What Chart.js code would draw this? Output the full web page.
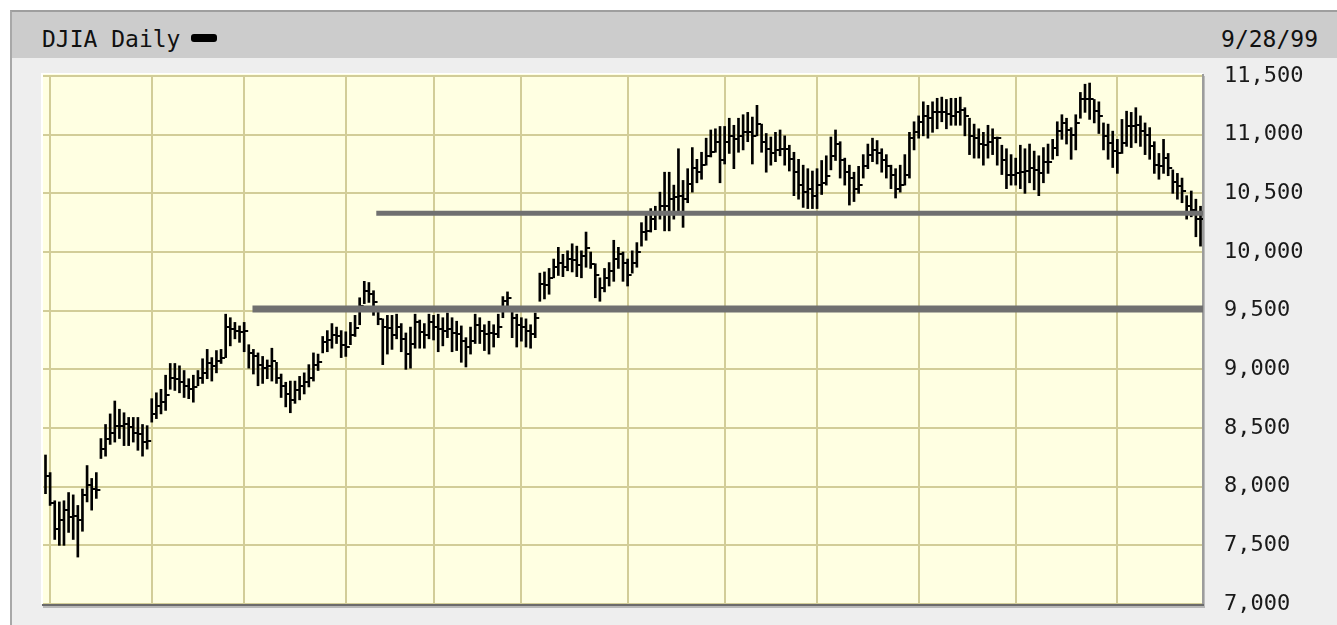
<!DOCTYPE html>
<html>
<head>
<meta charset="utf-8">
<script src="https://cdn.jsdelivr.net/npm/chart.js@4/dist/chart.umd.min.js"></script>
<style>
  body { margin: 0; background: #fff; width: 1337px; height: 625px; overflow: hidden; position: relative; }
  #panel { position: absolute; left: 10px; top: 10px; width: 1327px; height: 615px; box-sizing: border-box;
           border-top: 2px solid #9e9e9e; border-left: 2px solid #a8a8a8; background: #eeeeee; }
  #header { position: absolute; left: 12px; top: 12px; width: 1325px; height: 46px; background: #cccccc; }
  .txt { position: absolute; font-family: "DejaVu Sans Mono", monospace; font-size: 23px; line-height: 23px; color: #111; white-space: pre; }
  #title { left: 42px; top: 28px; }
  #mark { position: absolute; left: 191px; top: 34px; width: 26px; height: 8px; background: #000; border-radius: 3px; }
  #date { right: 19px; top: 28px; text-align: right; }
  #c { position: absolute; left: 0; top: 0; }
</style>
</head>
<body>
<div id="panel"></div>
<div id="header"></div>
<div class="txt" id="title">DJIA Daily</div>
<div id="mark"></div>
<div class="txt" id="date">9/28/99</div>
<canvas id="c" width="1337" height="625"></canvas>
<script>
// daily bars, 9/30/98 .. 9/28/99 (index = trading day)
var high = [
  8270, 8120, 7880, 7870, 7880, 7950, 7930, 7840, 7980, 8180,
  8070, 8120, 8410, 8530, 8620, 8730, 8660, 8630, 8590, 8590,
  8590, 8530, 8520, 8750, 8800, 8830, 8950, 9050, 9050, 9030,
  8990, 8920, 8950, 8990, 9090, 9170, 9100, 9160, 9170, 9470,
  9440, 9400, 9370, 9400, 9210, 9170, 9140, 9110, 9080, 9180,
  9060, 8960, 8890, 8900, 8900, 8940, 8970, 9040, 9140, 9130,
  9280, 9330, 9390, 9360, 9330, 9320, 9400, 9460, 9610, 9750,
  9740, 9670, 9510, 9430, 9460, 9460, 9470, 9390, 9310, 9360,
  9470, 9420, 9390, 9470, 9460, 9470, 9440, 9480, 9440, 9410,
  9370, 9270, 9360, 9470, 9440, 9380, 9410, 9380, 9470, 9620,
  9660, 9500, 9470, 9440, 9430, 9380, 9480, 9820, 9830, 9860,
  9940, 10040, 9980, 10010, 10070, 10050, 10010, 10170, 10000, 9900,
  9780, 9860, 9910, 10100, 10040, 10000, 9940, 10010, 10080, 10250,
  10310, 10370, 10390, 10510, 10680, 10680, 10570, 10880, 10610, 10710,
  10890, 10790, 10850, 10970, 11040, 11050, 11070, 11070, 11140, 11080,
  11140, 11170, 11190, 11150, 11250, 11090, 11010, 10980, 11020, 11040,
  10990, 10910, 10850, 10790, 10740, 10710, 10690, 10710, 10780, 10820,
  10980, 11040, 10940, 10800, 10740, 10680, 10730, 10830, 10920, 10970,
  10950, 10880, 10830, 10740, 10710, 10740, 10830, 11020, 11110, 11160,
  11280, 11250, 11280, 11310, 11320, 11300, 11310, 11310, 11320, 11230,
  11140, 11090, 11050, 11020, 11080, 11050, 10980, 10910, 10880, 10830,
  10800, 10910, 10880, 10920, 10860, 10820, 10890, 10920, 10960, 11110,
  11170, 11140, 11060, 11170, 11360, 11430, 11440, 11300, 11280, 11100,
  11090, 11030, 10960, 11130, 11200, 11190, 11230, 11160, 11100, 11060,
  10940, 10840, 10960, 10840, 10700, 10670, 10630, 10480, 10520, 10450,
  10390
];
var low = [
  7940, 7840, 7550, 7500, 7500, 7610, 7550, 7400, 7620, 7870,
  7800, 7900, 8240, 8260, 8360, 8380, 8410, 8350, 8350, 8380,
  8310, 8260, 8320, 8550, 8580, 8620, 8650, 8830, 8820, 8800,
  8760, 8750, 8720, 8860, 8880, 8920, 8900, 8970, 9050, 9100,
  9200, 9260, 9230, 9150, 9010, 8960, 8860, 8880, 8920, 8900,
  8880, 8760, 8680, 8630, 8710, 8740, 8790, 8850, 8900, 8990,
  9140, 9150, 9180, 9220, 9100, 9110, 9210, 9280, 9380, 9560,
  9570, 9460, 9380, 9040, 9130, 9170, 9260, 9150, 9000, 9010,
  9180, 9180, 9180, 9260, 9250, 9150, 9200, 9270, 9150, 9160,
  9060, 9020, 9130, 9220, 9220, 9160, 9130, 9190, 9270, 9440,
  9500, 9270, 9190, 9240, 9190, 9180, 9270, 9580, 9600, 9640,
  9780, 9800, 9790, 9840, 9830, 9790, 9780, 9870, 9860, 9610,
  9580, 9660, 9710, 9750, 9860, 9750, 9710, 9820, 9870, 10050,
  10100, 10170, 10190, 10280, 10180, 10180, 10280, 10340, 10210, 10420,
  10510, 10590, 10620, 10740, 10810, 10850, 10590, 10750, 10840, 10710,
  10850, 10870, 10940, 10750, 10990, 10850, 10680, 10740, 10770, 10820,
  10740, 10690, 10480, 10450, 10380, 10370, 10370, 10370, 10490, 10570,
  10700, 10780, 10630, 10570, 10400, 10430, 10500, 10630, 10710, 10770,
  10750, 10680, 10630, 10540, 10460, 10510, 10570, 10630, 10870, 10970,
  10990, 10970, 11020, 11050, 11110, 11050, 11080, 11080, 11080, 10990,
  10830, 10800, 10800, 10740, 10800, 10830, 10740, 10660, 10540, 10570,
  10570, 10540, 10500, 10590, 10530, 10480, 10590, 10670, 10790, 10820,
  10960, 10920, 10790, 10870, 11140, 11190, 11130, 11100, 11010, 10870,
  10790, 10720, 10670, 10840, 10900, 10890, 10930, 10900, 10830, 10790,
  10670, 10620, 10670, 10650, 10500, 10450, 10420, 10280, 10300, 10130,
  10050
];
var close = [
  8090, 7860, 7640, 7720, 7800, 7740, 7750, 7720, 7930, 8010,
  7980, 7970, 8320, 8410, 8460, 8520, 8520, 8530, 8510, 8460,
  8450, 8380, 8390, 8620, 8690, 8720, 8780, 8930, 8920, 8890,
  8860, 8830, 8850, 8930, 8970, 9050, 9030, 9070, 9100, 9360,
  9340, 9330, 9320, 9330, 9140, 9110, 9040, 9010, 9030, 9070,
  8930, 8860, 8790, 8740, 8820, 8860, 8890, 8930, 9040, 9060,
  9230, 9250, 9290, 9280, 9210, 9190, 9290, 9350, 9540, 9670,
  9640, 9570, 9430, 9360, 9350, 9290, 9360, 9260, 9130, 9220,
  9400, 9320, 9290, 9400, 9360, 9340, 9330, 9340, 9310, 9300,
  9240, 9190, 9240, 9380, 9330, 9300, 9310, 9300, 9360, 9580,
  9610, 9440, 9380, 9360, 9330, 9300, 9440, 9730, 9720, 9780,
  9870, 9910, 9870, 9940, 9930, 9890, 9970, 10030, 9900, 9800,
  9690, 9780, 9840, 9940, 9980, 9910, 9800, 9910, 10000, 10170,
  10180, 10280, 10320, 10390, 10390, 10450, 10470, 10480, 10450, 10580,
  10720, 10680, 10740, 10820, 10850, 10940, 10780, 10940, 10990, 10960,
  10990, 11020, 11020, 10990, 11090, 10940, 10880, 10840, 10870, 10880,
  10880, 10790, 10680, 10570, 10510, 10540, 10480, 10570, 10590, 10650,
  10820, 10920, 10780, 10680, 10630, 10540, 10570, 10730, 10830, 10870,
  10840, 10780, 10730, 10660, 10540, 10570, 10660, 10970, 11020, 11110,
  11160, 11140, 11190, 11190, 11190, 11180, 11160, 11190, 11210, 11160,
  10990, 10970, 10920, 10910, 10940, 10970, 10970, 10780, 10660, 10660,
  10670, 10680, 10690, 10720, 10700, 10670, 10770, 10770, 10890, 11030,
  11100, 11040, 11000, 11100, 11300, 11300, 11300, 11200, 11160, 10990,
  10930, 10860, 10840, 10930, 11070, 11070, 11080, 11030, 11000, 10900,
  10740, 10730, 10800, 10720, 10600, 10560, 10520, 10390, 10360, 10280,
  10280
];
// first trading day of each month, Oct 98 .. Sep 99
var monthStarts = [1, 23, 43, 65, 84, 103, 126, 147, 167, 189, 210, 232];
var yTicks = [7000, 7500, 8000, 8500, 9000, 9500, 10000, 10500, 11000, 11500];
// support lines: level and first day
var trendLevels = [9515, 10330];
var trendStarts = [44.8, 71.6];
var trendWidths = [7, 5];

var lastDay = high.length - 1;

// close tick: small mark to the right of the bar
var tickImg = document.createElement('canvas');
tickImg.width = 10;
tickImg.height = 2;
var tctx = tickImg.getContext('2d');
tctx.fillStyle = '#000';
tctx.fillRect(5, 0, 4, 2);

var bars = [], closes = [];
for (var i = 0; i < high.length; i++) {
    bars.push({ x: i, y: [low[i], high[i]] });
    closes.push({ x: i, y: close[i] });
}

var datasets = [];
for (var k = 0; k < trendLevels.length; k++) {
    datasets.push({
        type: 'line',
        data: [{ x: trendStarts[k], y: trendLevels[k] }, { x: lastDay + 0.54, y: trendLevels[k] }],
        borderColor: '#707070',
        borderWidth: trendWidths[k],
        borderCapStyle: 'butt',
        pointRadius: 0,
        order: 0
    });
}
datasets.push({
    type: 'line',
    data: closes,
    showLine: false,
    pointStyle: tickImg,
    pointRadius: 3,
    order: 1
});
datasets.push({
    type: 'bar',
    data: bars,
    backgroundColor: '#000',
    borderWidth: 0,
    barThickness: 2,
    order: 2
});

var plotFrame = {
    id: 'plotFrame',
    beforeDraw: function (chart) {
        var a = chart.chartArea, c = chart.ctx;
        c.save();
        c.fillStyle = '#ffffff';
        c.fillRect(a.left - 2, a.top - 3, a.right - a.left + 2, a.bottom - a.top + 3);
        c.fillStyle = '#ffffe2';
        c.fillRect(a.left, a.top - 2, a.right - a.left, a.bottom - a.top + 2);
        c.restore();
    },
    beforeDatasetsDraw: function (chart) {
        var a = chart.chartArea, c = chart.ctx;
        c.save();
        c.fillStyle = '#9c9c9c';
        c.fillRect(a.right - 1, a.top - 2, 2, a.bottom - a.top + 4);
        c.fillStyle = '#bcbcbc';
        c.fillRect(a.right + 1, a.top, 1, a.bottom - a.top + 4);
        c.fillStyle = '#6b6b6b';
        c.fillRect(a.left - 1, a.bottom, a.right - a.left + 2, 2);
        c.fillStyle = '#b8b8b8';
        c.fillRect(a.left, a.bottom + 2, a.right - a.left + 2, 2);
        c.restore();
    }
};

var gridColor = '#d2cd98';

new Chart(document.getElementById('c').getContext('2d'), {
    data: { datasets: datasets },
    options: {
        responsive: false,
        animation: false,
        devicePixelRatio: 1,
        layout: { padding: { left: 43, top: 76, right: 0, bottom: 21 } },
        plugins: { legend: { display: false }, tooltip: { enabled: false } },
        events: [],
        scales: {
            x: {
                type: 'linear',
                offset: false,
                min: -0.54,
                max: lastDay + 0.54,
                afterBuildTicks: function (scale) {
                    scale.ticks = monthStarts.map(function (v) { return { value: v }; });
                },
                afterFit: function (scale) { scale.height = 0; },
                ticks: { display: false },
                grid: { color: gridColor, lineWidth: 2, drawTicks: false, offset: false },
                border: { display: false }
            },
            y: {
                position: 'right',
                min: yTicks[0],
                max: yTicks[yTicks.length - 1],
                afterBuildTicks: function (scale) {
                    scale.ticks = yTicks.map(function (v) { return { value: v }; });
                },
                afterFit: function (scale) {
                    scale.width = 134;
                    scale.paddingTop = 0;
                    scale.paddingBottom = 0;
                },
                ticks: {
                    padding: 21,
                    color: '#1a1a1a',
                    font: { family: 'DejaVu Sans Mono', size: 22 },
                    callback: function (v) { return v.toLocaleString('en-US'); }
                },
                grid: { color: gridColor, lineWidth: 2, drawTicks: false },
                border: { display: false }
            }
        }
    },
    plugins: [plotFrame]
});
</script>
</body>
</html>
